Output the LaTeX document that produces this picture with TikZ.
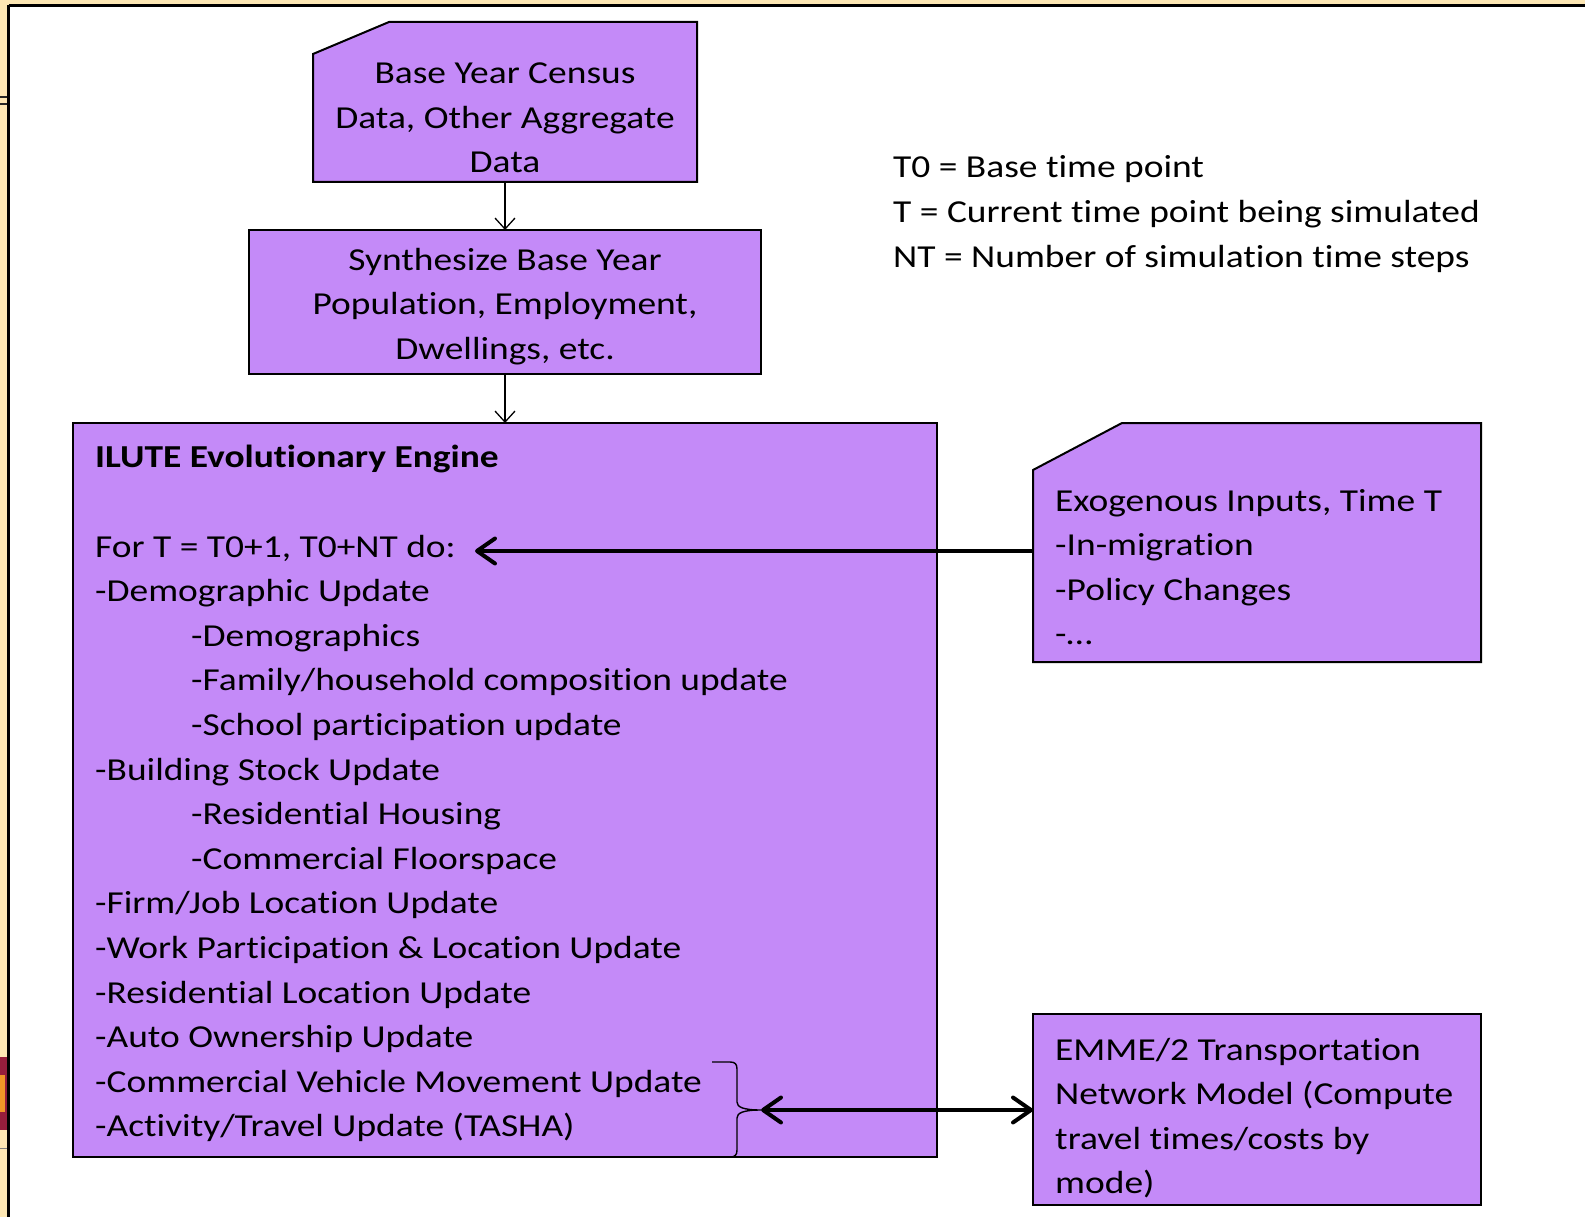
\documentclass[tikz,border=0pt]{standalone}
\usepackage{fontspec}
\setmainfont{Carlito}[FakeStretch=1.17, Ligatures=NoCommon]
\usetikzlibrary{arrows.meta}
\definecolor{boxpurple}{RGB}{196,138,248}
\definecolor{slideyellow}{RGB}{253,231,180}
\definecolor{logored}{RGB}{150,30,60}
\definecolor{logoorange}{RGB}{240,150,40}
\begin{document}
\begin{tikzpicture}[x=1pt,y=-1pt,
  every node/.style={font=\fontsize{32}{44.6}\selectfont},
  anchorbox/.style={rectangle, inner sep=0pt, outer sep=0pt},
  boxline/.style={draw=black, line width=2pt, fill=boxpurple, line join=miter},
  plainbox/.style={anchorbox, boxline},
  txt/.style={inner sep=0pt, anchor=base west},
  ctxt/.style={inner sep=0pt, anchor=base},
  thinarrow/.style={draw=black, line width=1.3pt, -{Straight Barb[length=11pt,width=20pt]}},
  thickarrow/.style={draw=black, line width=4pt, -{Straight Barb[round,length=18pt,width=25pt]}},
  dblarrow/.style={draw=black, line width=4pt, {Straight Barb[round,length=18pt,width=25pt]}-{Straight Barb[round,length=18pt,width=25pt]}},
  bracepath/.style={draw=black, line width=1.4pt}
]
\useasboundingbox (0,0) rectangle (1585,1217);
% slide background
\fill[white] (0,0) rectangle (1585,1217);
\fill[slideyellow] (0,0) rectangle (1585,5);
\fill[slideyellow] (0,0) rectangle (8,1217);
\draw[black!85, line width=1.5pt] (0,97) -- (7,97);
\draw[black!85, line width=1.5pt] (0,104) -- (7,104);
\fill[logored] (0,1057) rectangle (7.3,1130);
\fill[logoorange] (0,1075) rectangle (4.5,1112);
\draw[gray, line width=1pt] (0,1148) -- (7,1148);
\draw[line width=2.5pt] (8.7,5.5) -- (1585,5.5);
\draw[line width=2.7pt] (8.7,5.5) -- (8.7,1217);

% boxes
\node[anchorbox, minimum width=384pt, minimum height=160pt] (b1) at (505,102) {};
\draw[boxline] ([yshift=-32pt]b1.north west) -- ([xshift=76pt]b1.north west)
  -- (b1.north east) -- (b1.south east) -- (b1.south west) -- cycle;
\node[plainbox, minimum width=512pt, minimum height=144pt] (b2) at (505,302) {};
\node[plainbox, minimum width=864pt, minimum height=734pt] (b3) at (505,790) {};
\node[anchorbox, minimum width=448pt, minimum height=239pt] (b4) at (1257,542.5) {};
\draw[boxline] ([yshift=-47pt]b4.north west) -- ([xshift=89pt]b4.north west)
  -- (b4.north east) -- (b4.south east) -- (b4.south west) -- cycle;
\node[plainbox, minimum width=448pt, minimum height=191pt] (b5) at (1257,1109.5) {};

% texts
\node[ctxt] (t1) at (505,83.5) {\begin{tabular}[t]{@{}c@{}}Base Year Census\\Data, Other Aggregate\\Data\end{tabular}};
\node[ctxt] (t2) at (505,270) {\begin{tabular}[t]{@{}c@{}}Synthesize Base Year\\Population, Employment,\\Dwellings, etc.\end{tabular}};
\node[txt] (t3) at (95,467.8) {\begin{tabular}[t]{@{}l@{}}\textbf{ILUTE Evolutionary Engine}\\
\\
For T = T0+1, T0+NT do:\\
-Demographic Update\\
\hspace*{96pt}-Demographics\\
\hspace*{96pt}-Family/household composition update\\
\hspace*{96pt}-School participation update\\
-Building Stock Update\\
\hspace*{96pt}-Residential Housing\\
\hspace*{96pt}-Commercial Floorspace\\
-Firm/Job Location Update\\
-Work Participation \& Location Update\\
-Residential Location Update\\
-Auto Ownership Update\\
-Commercial Vehicle Movement Update\\
-Activity/Travel Update (TASHA)\end{tabular}};
\node[txt] (t4) at (1055,511) {\begin{tabular}[t]{@{}l@{}}Exogenous Inputs, Time T\\-In-migration\\-Policy Changes\\-…\end{tabular}};
\node[txt] (t5) at (1055,1060) {\begin{tabular}[t]{@{}l@{}}EMME/2 Transportation\\Network Model (Compute\\travel times/costs by\\mode)\end{tabular}};
\node[txt] (legend) at (893,178) {\begin{tabular}[t]{@{}l@{}}T0 = Base time point\\T = Current time point being simulated\\NT = Number of simulation time steps\end{tabular}};

% connectors
\draw[thinarrow] (b1.south) -- (b2.north);
\draw[thinarrow] (b2.south) -- (b3.north);
\coordinate (forT) at (475,551);
\draw[thickarrow] (b4.west |- forT) -- (forT);
\coordinate (bracetip) at (761,1110);
\draw[bracepath] (712,1062) -- (730,1062) .. controls (735,1062) and (737,1064) .. (737,1069)
  -- (737,1102) .. controls (737,1107) and (743,1110) .. (bracetip)
  .. controls (743,1110) and (737,1113) .. (737,1118)
  -- (737,1150) .. controls (737,1155) and (735,1157) .. (730,1157) -- (712,1157);
\draw[dblarrow] (bracetip) -- (b5.west |- bracetip);
\end{tikzpicture}
\end{document}
